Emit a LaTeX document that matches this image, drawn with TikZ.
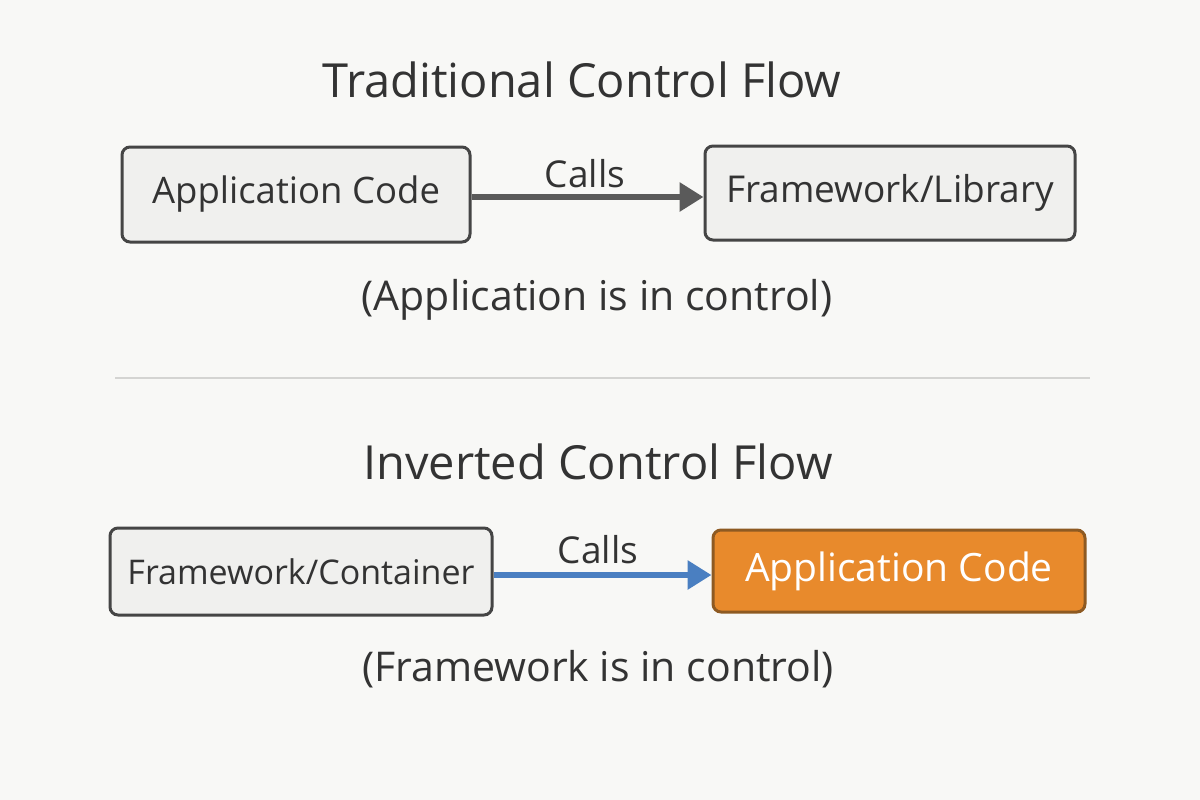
\documentclass[tikz,border=0pt]{standalone}
\usepackage{fontspec}
\setmainfont{Open Sans}
\usetikzlibrary{arrows.meta}
\definecolor{bg}{HTML}{F8F8F6}
\definecolor{ink}{HTML}{333333}
\definecolor{boxfill}{HTML}{F0F0EE}
\definecolor{boxline}{HTML}{454545}
\definecolor{orangefill}{HTML}{E88A2C}
\definecolor{orangeline}{HTML}{8E5A22}
\definecolor{arrowgray}{HTML}{5A5A5A}
\definecolor{arrowblue}{HTML}{4A7FC1}
\definecolor{sepline}{HTML}{D4D4D2}
\newcommand{\fsz}[1]{\fontsize{#1}{#1}\selectfont}
\tikzset{
  txt/.style={text=ink, anchor=center, inner sep=0pt},
  sketchbox/.style={draw=boxline, line width=3pt, rounded corners=8pt, fill=boxfill, text=ink, inner sep=0pt},
  orangebox/.style={draw=orangeline, line width=3pt, rounded corners=8pt, fill=orangefill, text=white, inner sep=0pt},
  callarrow/.style={line width=6.5pt, -{Triangle[length=24pt,width=28pt]}},
}
\begin{document}
\begin{tikzpicture}[x=1pt,y=-1pt]
\useasboundingbox (0,0) rectangle (1200,800);
\fill[bg] (0,0) rectangle (1200,800);

\node[txt, font=\fsz{47}] (t1) at (582,80) {Traditional Control Flow};
\node[sketchbox, minimum width=348pt, minimum height=95pt, font=\fsz{36.5}] (a1) at (296,194.5) {Application Code};
\node[sketchbox, minimum width=370pt, minimum height=94pt, font=\fsz{37}] (f1) at (890,193) {Framework/Library};
\draw[callarrow, arrowgray] (a1.east |- 0,197) -- (f1.west |- 0,197);
\node[txt, font=\fsz{37}] (c1) at (585,174) {Calls};
\node[txt, font=\fsz{41}] (n1) at (597,300) {(Application is in control)};

\draw[sepline, line width=2pt] (115,378) coordinate (s1) -- (1090,378) coordinate (s2);

\node[txt, font=\fsz{47}] (t2) at (598,462) {Inverted Control Flow};
\node[sketchbox, minimum width=382pt, minimum height=87pt, font=\fsz{34}] (f2) at (301,571.5) {Framework/Container};
\node[orangebox, minimum width=372pt, minimum height=82pt, font=\fsz{39}] (a2) at (899,571) {Application Code};
\draw[callarrow, arrowblue] (f2.east |- 0,575) -- (a2.west |- 0,575);
\node[txt, font=\fsz{37}] (c2) at (598,550) {Calls};
\node[txt, font=\fsz{41}] (n2) at (598,669) {(Framework is in control)};
\end{tikzpicture}
\end{document}
